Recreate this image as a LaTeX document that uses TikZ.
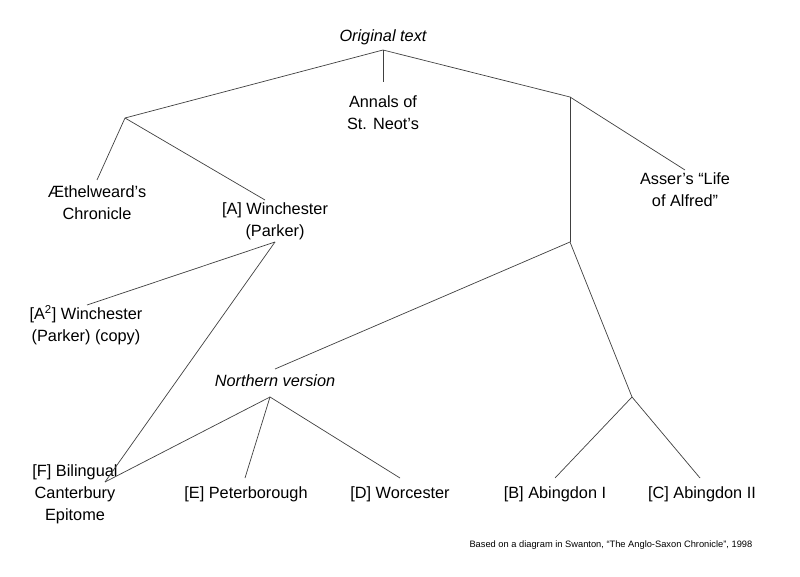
\documentclass[tikz,border=0pt]{standalone}
\usepackage{fontspec}
\setmainfont{Liberation Sans}
\begin{document}
\begin{tikzpicture}[x=1pt,y=-1pt,
  lbl/.style={align=center,font=\fontsize{16.3}{22}\selectfont,inner sep=1pt},
  ln/.style={draw=black!75,line width=0.7pt}]
\useasboundingbox[fill=white] (0,0) rectangle (800,577);
\node[lbl,font=\fontsize{16.3}{22}\selectfont\itshape] (orig) at (383,37) {Original text};
\node[lbl] (annals) at (383,113) {Annals of\\St. Neot’s};
\node[lbl] (aeth) at (97,203) {Æthelweard’s\\Chronicle};
\node[lbl] (win) at (275,221) {[A] Winchester\\(Parker)};
\node[lbl] (asser) at (685,190) {Asser’s “Life\\of Alfred”};
\node[lbl] (a2) at (86,325) {[A\textsuperscript{2}] Winchester\\(Parker) (copy)};
\node[lbl,font=\fontsize{16.3}{22}\selectfont\itshape] (north) at (275,381) {Northern version};
\node[lbl] (f) at (75,494) {[F] Bilingual\\Canterbury\\Epitome};
\node[lbl] (e) at (246,494) {[E] Peterborough};
\node[lbl] (d) at (400,494) {[D] Worcester};
\node[lbl] (b) at (555,494) {[B] Abingdon I};
\node[lbl] (c) at (702,494) {[C] Abingdon II};
\node[font=\fontsize{9.3}{11}\selectfont,anchor=west] (note) at (466,545) {Based on a diagram in Swanton, “The Anglo-Saxon Chronicle”, 1998};
\coordinate (o) at (383,50);
\coordinate (j1) at (125,118);
\coordinate (j2) at (570,97);
\coordinate (j3) at (570,242);
\coordinate (j4) at (632,397);
\coordinate (wb) at (275,242);
\coordinate (nb) at (270,397);
\coordinate (ft) at (105,482);
\draw[ln] (o) -- (383,82);
\draw[ln] (o) -- (j1);
\draw[ln] (o) -- (j2);
\draw[ln] (j1) -- (97,180);
\draw[ln] (j1) -- (265,200);
\draw[ln] (j2) -- (685,170);
\draw[ln] (j2) -- (j3);
\draw[ln] (j3) -- (275,369);
\draw[ln] (j3) -- (j4);
\draw[ln] (j4) -- (555,478);
\draw[ln] (j4) -- (700,478);
\draw[ln] (wb) -- (87,305);
\draw[ln] (wb) -- (ft);
\draw[ln] (nb) -- (ft);
\draw[ln] (nb) -- (245,478);
\draw[ln] (nb) -- (400,478);
\end{tikzpicture}
\end{document}
